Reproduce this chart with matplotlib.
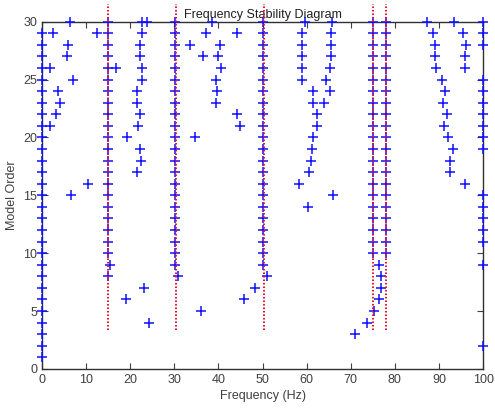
import matplotlib.pyplot as plt

# stable poles: one frequency per column, with the model orders found there
stable_freqs = [0.0, 15.0, 30.2, 50.2, 75.0, 78.0, 100.0]
stable_orders = [
    [1, 2, 3, 4, 5, 6, 7, 8, 9, 10, 11, 12, 13, 14, 15, 16, 17, 18, 19, 20,
     21, 22, 23, 24, 25, 26, 27, 28, 29],
    [8, 10, 11, 12, 13, 14, 15, 16, 17, 18, 19, 20, 21, 22, 23, 24, 25, 26,
     27, 28, 29, 30],
    [9, 10, 11, 12, 13, 14, 15, 16, 17, 18, 19, 20, 21, 22, 23, 24, 25, 26,
     27, 28, 29, 30],
    [9, 10, 11, 12, 13, 14, 15, 16, 17, 18, 19, 20, 21, 22, 23, 24, 25, 26,
     27, 28, 29, 30],
    [10, 11, 12, 13, 14, 15, 16, 17, 18, 19, 20, 21, 22, 23, 24, 25, 26, 27,
     28, 29, 30],
    [10, 11, 12, 13, 14, 15, 16, 17, 18, 19, 20, 21, 22, 23, 24, 25, 26, 27,
     28, 29, 30],
    [2, 9, 11, 12, 13, 14, 15, 19, 20, 21, 22, 23, 24, 25, 28, 29, 30],
]

# scattered poles
other_freq = [
    6.3, 22.7, 23.9, 38.5, 59.6, 65.7, 87.2, 93.5,
    2.4, 12.4, 22.7, 37.1, 44.1, 58.9, 65.5, 88.7, 95.5,
    5.8, 22.2, 33.6, 40.4, 58.9, 65.4, 89.1, 96.1,
    5.6, 22.2, 36.6, 39.8, 58.9, 65.4, 89.1, 95.9,
    1.8, 16.7, 22.7, 40.5, 58.9, 65.2, 89.3, 95.9,
    6.9, 22.7, 39.5, 58.9, 64.4, 90.6,
    3.6, 21.6, 39.6, 61.5, 65.3, 91.4,
    4.1, 21.6, 39.5, 61.5, 63.9, 91.0,
    3.1, 22.2, 44.3, 62.3, 91.8,
    1.8, 21.8, 44.9, 62.3, 91.2,
    19.2, 34.7, 61.5, 92.1,
    22.2, 61.2, 93.1,
    22.4, 61.0, 92.6,
    21.6, 60.6, 92.6,
    10.4, 58.3, 95.8,
    6.6, 65.9,
    60.4,
    15.4, 76.5,
    30.9, 51.0, 76.8,
    23.2, 48.3, 76.8,
    19.0, 45.8, 76.3,
    36.1, 75.3,
    24.3, 73.6,
    71.0,
]
other_order = [
    30, 30, 30, 30, 30, 30, 30, 30,
    29, 29, 29, 29, 29, 29, 29, 29, 29,
    28, 28, 28, 28, 28, 28, 28, 28,
    27, 27, 27, 27, 27, 27, 27, 27,
    26, 26, 26, 26, 26, 26, 26, 26,
    25, 25, 25, 25, 25, 25,
    24, 24, 24, 24, 24, 24,
    23, 23, 23, 23, 23, 23,
    22, 22, 22, 22, 22,
    21, 21, 21, 21, 21,
    20, 20, 20, 20,
    19, 19, 19,
    18, 18, 18,
    17, 17, 17,
    16, 16, 16,
    15, 15,
    14,
    9, 9,
    8, 8, 8,
    7, 7, 7,
    6, 6, 6,
    5, 5,
    4, 4,
    3,
]

# identified natural frequencies (red dotted lines)
mode_freqs = [15.0, 30.3, 50.3, 75.0, 78.0]
mode_span = [3.4, 31.5]

plt.rcParams['font.family'] = ['Liberation Sans', 'DejaVu Sans']
fig = plt.figure(figsize=(4.95, 4.09), dpi=100)
ax = fig.add_axes([0.085, 0.098, 0.891, 0.849])

blue = '#1010ff'
for f, orders in zip(stable_freqs, stable_orders):
    ax.plot([f] * len(orders), orders, '+', color=blue, ms=7, mew=1.1,
            clip_on=False, zorder=3)
ax.plot(other_freq, other_order, '+', color=blue, ms=7, mew=1.1,
        clip_on=False, zorder=3)

for f in mode_freqs:
    ax.plot([f, f], mode_span, color='#e8102a', lw=1.4,
            linestyle=(0, (0.8, 1.0)), clip_on=False, zorder=4)

ax.set_xlim(0, 100)
ax.set_ylim(0, 30)
ax.set_xticks(range(0, 101, 10))
ax.set_yticks(range(0, 31, 5))
ax.tick_params(direction='in', length=4, top=True, right=True,
               labelsize=9, colors='#404040', labelcolor='#404040')
for s in ax.spines.values():
    s.set_color('#303030')
    s.set_linewidth(1.0)

ax.set_xlabel('Frequency (Hz)', fontsize=9, color='#404040', labelpad=3)
ax.set_ylabel('Model Order', fontsize=9, color='#404040', labelpad=4)
ax.set_title('Frequency Stability Diagram', fontsize=9, color='#202020',
             pad=3)

fig.savefig('out.png', dpi=100)
